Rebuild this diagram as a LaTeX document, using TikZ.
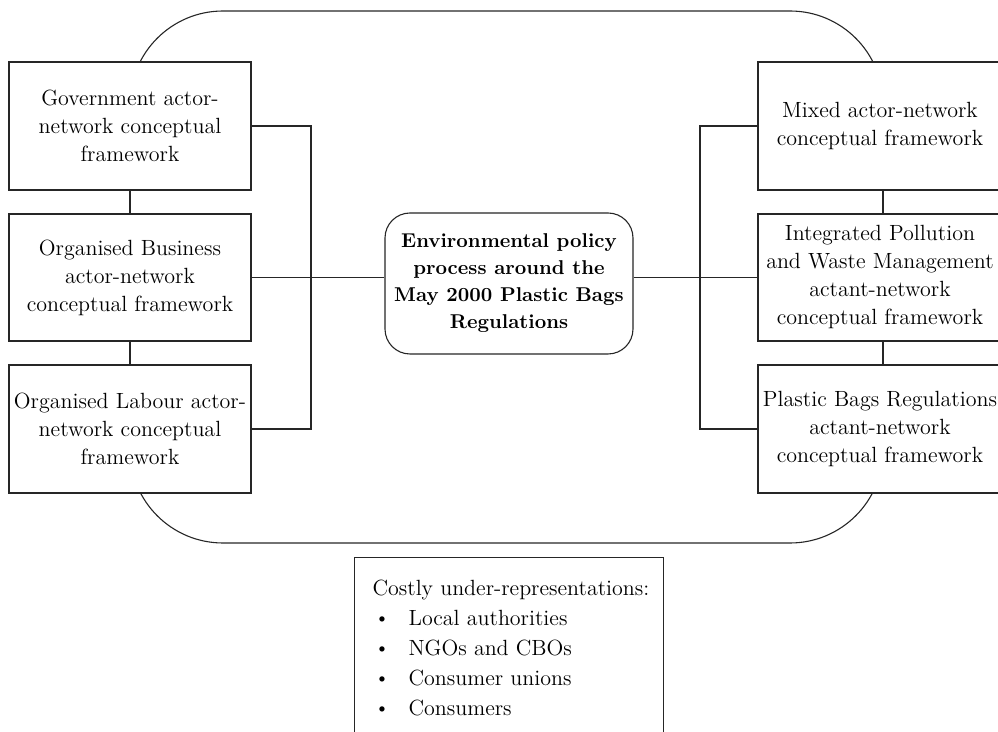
\documentclass[tikz,border=0pt]{standalone}
\newcommand{\smbullet}{\makebox[18pt][l]{\hspace{1.2pt}\raisebox{0.7pt}{\fontsize{9}{9}\selectfont\textbullet}}}
\begin{document}
\begin{tikzpicture}[x=0.5pt,y=-0.5pt,
  line width=0.55pt,
  line/.style={draw=black!85},
  framebox/.style={draw=black!85, fill=white, minimum width=121pt, align=center, inner sep=2pt, font=\fontsize{11}{14}\selectfont},
  rframebox/.style={framebox, minimum width=122pt},
  hub/.style={draw=black!85, fill=white, rounded corners=12.5pt, minimum width=124pt, minimum height=70.5pt, align=center, inner sep=2pt, font=\bfseries\fontsize{10}{13.5}\selectfont},
  listtext/.style={anchor=north west, inner sep=0pt, align=left, font=\fontsize{11}{15}\selectfont}]
\useasboundingbox (0,0) rectangle (998,732);
% outer rounded frame
\path[line, rounded corners=46.5pt] (130,11) rectangle (883,543);
% left column
\node[framebox, minimum height=64pt] (gov) at (130,126) {Government actor-\\network conceptual\\framework};
\node[framebox, minimum height=63.5pt] (bus) at (130,277.5) {Organised Business\\actor-network\\conceptual framework};
\node[framebox, minimum height=64pt] (lab) at (130,429) {Organised Labour actor-\\network conceptual\\framework};
% right column
\node[rframebox, minimum height=64pt] (mix) at (880,126) {Mixed actor-network\\conceptual framework};
\node[rframebox, minimum height=63.5pt] (iwm) at (880,277.5) {Integrated Pollution\\and Waste Management\\actant-network\\conceptual framework};
\node[rframebox, minimum height=64pt] (pbr) at (880,429) {Plastic Bags Regulations\\actant-network\\conceptual framework};
% hub
\node[hub] (hub) at (509,283.5) {Environmental policy\\process around the\\May 2000 Plastic Bags\\Regulations};
% bracket and column coordinates
\coordinate (lbr) at (311,0);
\coordinate (rbr) at (700,0);
\coordinate (rcol) at (883,0);
% connectors
\path[line] (gov.south) -- (bus.north);
\path[line] (bus.south) -- (lab.north);
\path[line] (mix.south -| rcol) -- (iwm.north -| rcol);
\path[line] (iwm.south -| rcol) -- (pbr.north -| rcol);
\path[line] (gov.east) -- (gov.east -| lbr) -- (lab.east -| lbr) -- (lab.east);
\path[line] (mix.west) -- (mix.west -| rbr) -- (pbr.west -| rbr) -- (pbr.west);
\path[line] (bus.east) -- (bus.east -| hub.west);
\path[line] (hub.east |- iwm.west) -- (iwm.west);
% bottom box
\node[draw=black!85, fill=white, anchor=north west, minimum width=154.5pt, minimum height=100pt, inner sep=0pt] (costly) at (354,557) {};
\node[listtext] (costlytxt) at (372,579) {Costly under-representations:\\
\smbullet Local authorities\\
\smbullet NGOs and CBOs\\
\smbullet Consumer unions\\
\smbullet Consumers};
\end{tikzpicture}
\end{document}
